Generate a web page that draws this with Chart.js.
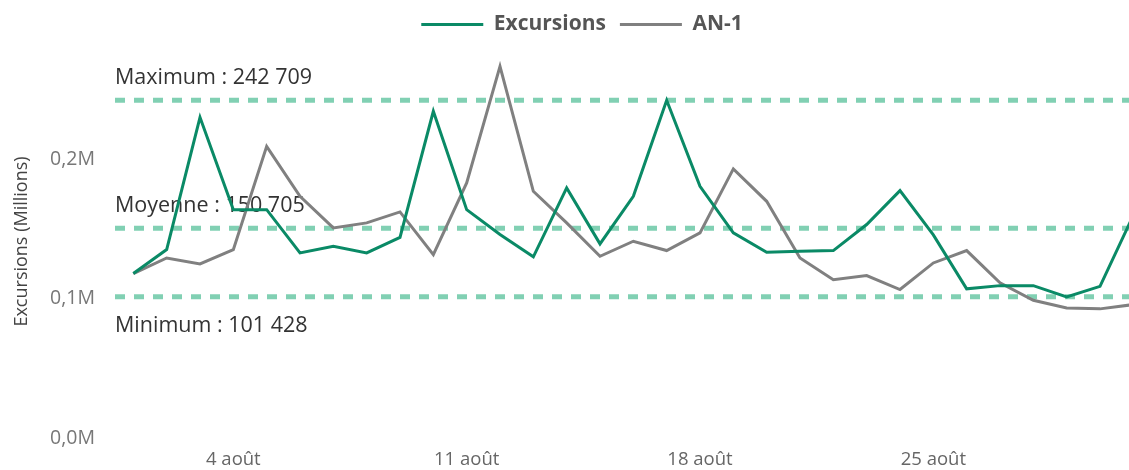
<!DOCTYPE html>
<html>
<head>
<meta charset="utf-8">
<script src="https://cdn.jsdelivr.net/npm/chart.js@4.4.1/dist/chart.umd.min.js"></script>
<style>
  html, body { margin: 0; padding: 0; background: #fff; overflow: hidden; }
  #wrap { width: 1129px; height: 470px; }
</style>
</head>
<body>
<div id="wrap"><canvas id="chart"></canvas></div>
<script>
// jours d'août
const days = [1, 2, 3, 4, 5, 6, 7, 8, 9, 10, 11, 12, 13, 14, 15, 16, 17, 18, 19, 20,
  21, 22, 23, 24, 25, 26, 27, 28, 29, 30, 31];
const excursions = [118200, 135400, 230500, 164100, 164100, 133000, 137800, 133000, 144200, 234800,
  164100, 146200, 130200, 179700, 139500, 173700, 242709, 180900, 147400, 133500,
  134200, 134700, 153400, 177800, 146000, 107200, 109500, 109500, 101428, 109000, 160000];
const anMoins1 = [118200, 129400, 125100, 135400, 209600, 173700, 151000, 154600, 162500, 131800,
  183300, 267100, 177300, 154600, 130600, 141400, 134700, 147400, 193400, 170100,
  129400, 113800, 116700, 106700, 125800, 134700, 111500, 99000, 93500, 92800, 95900];
const xTickDays = [4, 11, 18, 25];
const yTicks = [0, 100000, 200000];
const refLabels = ['Maximum', 'Moyenne', 'Minimum'];
const refValues = [242709, 150705, 101428];

const GREEN = '#0a8a66';
const GREY = '#808080';

function fmtNumber(v) {
  return String(v).replace(/\B(?=(\d{3})+(?!\d))/g, ' ');
}

const refLinesPlugin = {
  id: 'refLines',
  beforeDatasetsDraw(chart) {
    const { ctx, chartArea, scales } = chart;
    ctx.save();
    refValues.forEach((v, i) => {
      const py = scales.y.getPixelForValue(v);
      ctx.strokeStyle = 'rgba(80, 190, 150, 0.72)';
      ctx.lineWidth = 5;
      ctx.setLineDash([10, 9]);
      ctx.beginPath();
      ctx.moveTo(chartArea.left, py);
      ctx.lineTo(chartArea.right, py);
      ctx.stroke();
      ctx.setLineDash([]);
      ctx.fillStyle = '#333';
      ctx.font = '21.5px "Open Sans"';
      ctx.textBaseline = 'middle';
      const below = i === refValues.length - 1;
      ctx.fillText(refLabels[i] + ' : ' + fmtNumber(v), chartArea.left, below ? py + 29 : py - 22);
    });
    ctx.restore();
  }
};

const ctx = document.getElementById('chart').getContext('2d');
new Chart(ctx, {
  type: 'line',
  data: {
    datasets: [
      {
        label: 'Excursions',
        data: days.map((d, i) => ({ x: d, y: excursions[i] })),
        borderColor: GREEN,
        backgroundColor: GREEN,
        borderWidth: 3,
        pointRadius: 0,
        tension: 0
      },
      {
        label: 'AN-1',
        data: days.map((d, i) => ({ x: d, y: anMoins1[i] })),
        borderColor: GREY,
        backgroundColor: GREY,
        borderWidth: 3,
        pointRadius: 0,
        tension: 0
      }
    ]
  },
  options: {
    responsive: true,
    maintainAspectRatio: false,
    animation: false,
    // décalage gauche pour centrer la légende comme dans Power BI
    layout: { padding: { left: 35, right: 0, top: 0, bottom: 0 } },
    plugins: {
      tooltip: { enabled: false },
      legend: {
        position: 'top',
        labels: {
          usePointStyle: true,
          pointStyle: 'line',
          pointStyleWidth: 62,
          padding: 14,
          color: '#555',
          font: { family: 'Open Sans', size: 21, weight: 'bold' }
        }
      }
    },
    scales: {
      x: {
        type: 'linear',
        min: 0.45,
        max: 30.87,
        afterFit: (scale) => { scale.height = 32; },
        afterBuildTicks: (scale) => { scale.ticks = xTickDays.map(v => ({ value: v })); },
        grid: { display: false, drawTicks: false },
        border: { display: false },
        ticks: {
          padding: 11,
          color: '#666',
          font: { family: 'Open Sans', size: 18.5 },
          maxRotation: 0,
          autoSkip: false,
          callback: (v) => v + ' août'
        }
      },
      y: {
        min: 0,
        max: 282430,
        afterFit: (scale) => { scale.width = 80; },
        afterBuildTicks: (scale) => { scale.ticks = yTicks.map(v => ({ value: v })); },
        grid: { display: false, drawTicks: false },
        border: { display: false },
        ticks: {
          padding: 20,
          color: '#777',
          font: { family: 'Open Sans', size: 19.5 },
          callback: (v) => (v / 1e6).toFixed(1).replace('.', ',') + 'M'
        },
        title: {
          display: true,
          text: 'Excursions (Millions)',
          color: '#444',
          padding: { top: -24, bottom: 4 },
          font: { family: 'Open Sans', size: 18 }
        }
      }
    }
  },
  plugins: [refLinesPlugin]
});
</script>
</body>
</html>
